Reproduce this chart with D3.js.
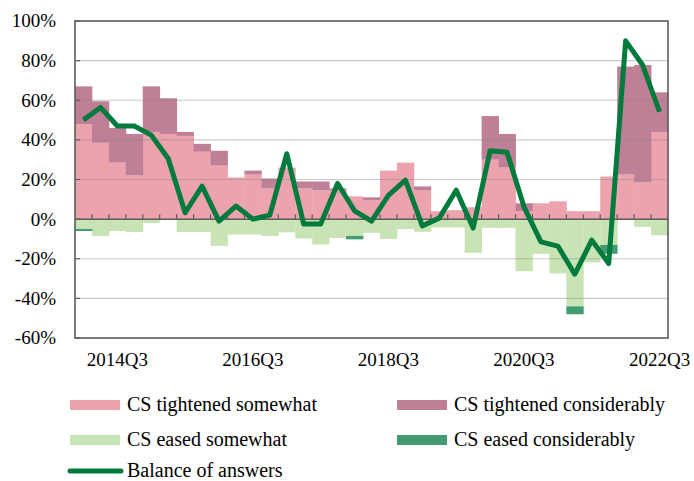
<!DOCTYPE html>
<html>
<head>
<meta charset="utf-8">
<script src="https://cdn.jsdelivr.net/npm/d3@7"></script>
<style>
  html, body { margin: 0; padding: 0; background: #fff; }
  svg { display: block; }
  text { font-family: "Liberation Serif", "Times New Roman", serif; fill: #000; }
</style>
</head>
<body>
<svg id="chart" width="694" height="481"></svg>
<script>
// ---- Data (2014Q1 .. 2022Q3) ----
const quarters = [];
for (let y = 2014; y <= 2022; y++) for (let q = 1; q <= 4; q++) {
  if (y === 2022 && q > 3) break;
  quarters.push(y + "Q" + q);
}
const tightenedSomewhat = [48, 38.5, 28.5, 22, 44, 43, 42, 34, 27, 21, 22.5, 15.5, 26, 15.5, 14.5, 14.5, 11.5, 9.5, 24.5, 28.5, 14.5, 4, 4.5, 6, 30, 26, 4, 8, 9, 4, 4, 21.5, 22.5, 18.5, 43.8];
const tightenedConsiderably = [19, 21, 17.5, 21, 23, 18, 2, 4, 7.5, 0, 2, 5, 0, 3.5, 4.5, 1, 0, 1.5, 0, 0, 2, 0, 0, 0, 22, 17, 4, 0, 0, 0, 0, 0, 54.5, 59.3, 20.2];
const easedSomewhat = [5, 8.5, 6, 6.5, 2, 0.3, 6.5, 6.5, 13.5, 7.8, 7.8, 8.5, 6.7, 9.7, 12.8, 9.5, 8.5, 6.9, 10, 5, 6.4, 4.2, 4.2, 17, 4.4, 4.4, 26.3, 17.5, 27.4, 44, 21.9, 13, 0, 3.9, 8.1];
const easedConsiderably = [1, 0, 0, 0, 0, 0, 0, 0, 0, 0, 0, 0, 0, 0, 0, 0, 1.7, 0, 0, 0, 0, 0, 0, 0, 0, 0, 0, 0, 0, 4, 0, 4.5, 0, 0, 0];
const balance = [50, 56.4, 47, 47, 42.4, 30.6, 3.2, 16.7, -1, 6.6, 0, 2, 33, -2.5, -2.5, 18, 4.2, -1, 12, 19.7, -3.4, 0.5, 14.6, -4.5, 34.5, 33.7, 6.2, -11.5, -13.6, -27.8, -10.6, -22.4, 90, 77.8, 54.2];
const yTicks = [-60, -40, -20, 0, 20, 40, 60, 80, 100];
const xLabels = ["2014Q3", "2016Q3", "2018Q3", "2020Q3", "2022Q3"];

const seriesNames = {
  ts: "CS tightened somewhat",
  tc: "CS tightened considerably",
  es: "CS eased somewhat",
  ec: "CS eased considerably",
  bal: "Balance of answers"
};
const colors = { ts: "#EDA3AE", tc: "#BF7F96", es: "#C9E4B4", ec: "#439C71", bal: "#007A3D" };

// ---- Table ----
const rows = quarters.map((q, i) => ({
  q,
  ts: tightenedSomewhat[i],
  tc: tightenedConsiderably[i],
  es: -easedSomewhat[i],
  ec: -easedConsiderably[i]
}));

const svg = d3.select("#chart");
const L = 75, R = 668, T = 21, B = 338;

const x = d3.scaleBand().domain(quarters).range([L, R]).padding(0);
const y = d3.scaleLinear().domain([-60, 100]).range([B, T]);

const stack = d3.stack().keys(["ts", "tc", "es", "ec"]).offset(d3.stackOffsetDiverging);
const stacked = stack(rows);

// bars
const gBars = svg.append("g");
stacked.forEach(s => {
  gBars.append("g").attr("fill", colors[s.key])
    .selectAll("rect").data(s).join("rect")
    .attr("x", d => x(d.data.q))
    .attr("width", x.bandwidth() + 0.4)
    .attr("y", d => y(Math.max(d[0], d[1])))
    .attr("height", d => Math.abs(y(d[0]) - y(d[1])));
});

// gridlines
svg.append("g").selectAll("line").data(yTicks.filter(t => t !== -60 && t !== 100 && t !== 0)).join("line")
  .attr("x1", L).attr("x2", R)
  .attr("y1", d => y(d)).attr("y2", d => y(d))
  .attr("stroke", "#8a8a8a").attr("stroke-opacity", 0.45).attr("stroke-width", 1.2);

// zero axis with upward ticks at band boundaries
const axisColor = "#5c5c5c";
svg.append("line").attr("x1", L).attr("x2", R).attr("y1", y(0)).attr("y2", y(0))
  .attr("stroke", axisColor).attr("stroke-width", 1.5);
svg.append("g").selectAll("line").data(quarters.slice(1)).join("line")
  .attr("x1", d => x(d)).attr("x2", d => x(d))
  .attr("y1", y(0)).attr("y2", y(0) - 5)
  .attr("stroke", axisColor).attr("stroke-width", 1.2);

// left ticks
svg.append("g").selectAll("line").data(yTicks).join("line")
  .attr("x1", L).attr("x2", L + 5)
  .attr("y1", d => y(d)).attr("y2", d => y(d))
  .attr("stroke", axisColor).attr("stroke-width", 1.2);

// frame
svg.append("rect").attr("x", L).attr("y", T).attr("width", R - L).attr("height", B - T)
  .attr("fill", "none").attr("stroke", axisColor).attr("stroke-width", 1.6);

// y labels
svg.append("g").selectAll("text").data(yTicks).join("text")
  .attr("x", 56).attr("y", d => y(d)).attr("dy", "0.34em")
  .attr("text-anchor", "end").attr("font-size", 19)
  .text(d => d + "%");

// x labels
svg.append("g").selectAll("text").data(xLabels).join("text")
  .attr("x", d => x(d) + x.bandwidth() / 2).attr("y", 366)
  .attr("text-anchor", "middle").attr("font-size", 19)
  .text(d => d);

// balance line
const line = d3.line()
  .x((d, i) => x(quarters[i]) + x.bandwidth() / 2)
  .y(d => y(d));
svg.append("path").datum(balance)
  .attr("d", line)
  .attr("fill", "none").attr("stroke", colors.bal).attr("stroke-width", 5)
  .attr("stroke-linejoin", "round").attr("stroke-linecap", "butt");

// legend
const legend = [
  { key: "ts", x: 70, y: 405, type: "rect" },
  { key: "tc", x: 397, y: 405, type: "rect" },
  { key: "es", x: 70, y: 440, type: "rect" },
  { key: "ec", x: 397, y: 440, type: "rect" },
  { key: "bal", x: 70, y: 471, type: "line" }
];
const gl = svg.append("g");
legend.forEach(it => {
  if (it.type === "rect") {
    gl.append("rect").attr("x", it.x).attr("y", it.y - 5).attr("width", 50).attr("height", 10)
      .attr("fill", colors[it.key]);
  } else {
    gl.append("line").attr("x1", it.x).attr("x2", it.x + 51).attr("y1", it.y).attr("y2", it.y)
      .attr("stroke", colors.bal).attr("stroke-width", 5).attr("stroke-linecap", "round");
  }
  gl.append("text").attr("x", it.x + 57).attr("y", it.y + 6)
    .attr("font-size", 20).text(seriesNames[it.key]);
});
</script>
</body>
</html>
